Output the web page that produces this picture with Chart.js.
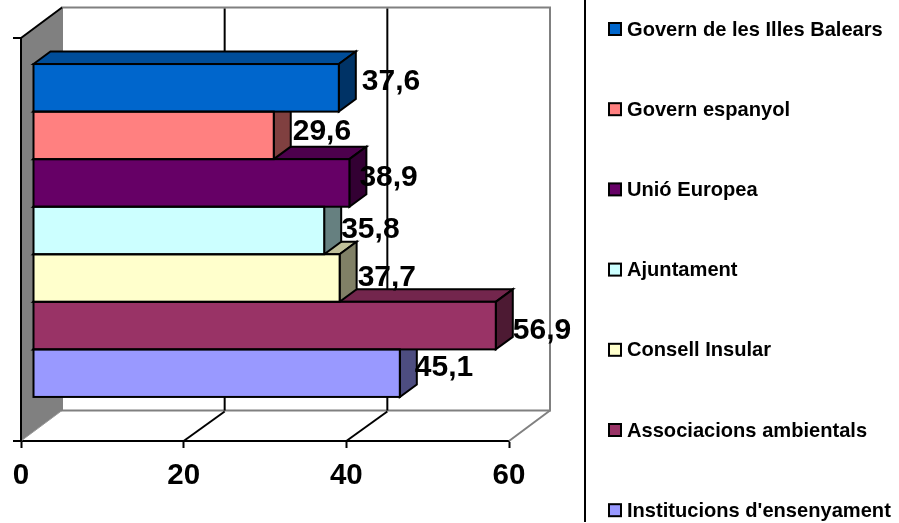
<!DOCTYPE html>
<html>
<head>
<meta charset="utf-8">
<style>
  html, body { margin: 0; padding: 0; background: #fff; }
  canvas { display: block; }
</style>
</head>
<body>
<canvas id="fundingChart" width="899" height="523"></canvas>
<script src="https://cdn.jsdelivr.net/npm/chart.js@4"></script>
<script>
const categories = [''];
const seriesNames = [
  'Govern de les Illes Balears',
  'Govern espanyol',
  'Unió Europea',
  'Ajuntament',
  'Consell Insular',
  'Associacions ambientals',
  "Institucions d'ensenyament"
];
const seriesValues = [37.6, 29.6, 38.9, 35.8, 37.7, 56.9, 45.1];
const seriesColors = ['#0066CC', '#FF8080', '#660066', '#CCFFFF', '#FFFFCC', '#993366', '#9999FF'];

const FONT = '"Liberation Sans", Arial, sans-serif';
const wall = { dx: 41, dy: -30.5 };   // depth of the box
const barDepth = { dx: 17, dy: -12.5 }; // depth of each bar
const barShift = { x: 12, y: -9 };    // bars sit inside the box, not on the front edge
const labelNudge = [[6, -6], [2, -4], [-7, -5], [0, -1], [1, 0], [0, 5], [-2, -5]];

function shade(hex, k) {
  const n = parseInt(hex.slice(1), 16);
  const c = [n >> 16, (n >> 8) & 255, n & 255].map(v => Math.round(v * k));
  return `rgb(${c[0]}, ${c[1]}, ${c[2]})`;
}

function poly(ctx, pts, fill, stroke, width) {
  ctx.beginPath();
  pts.forEach((p, i) => (i ? ctx.lineTo(p[0], p[1]) : ctx.moveTo(p[0], p[1])));
  ctx.closePath();
  if (fill) { ctx.fillStyle = fill; ctx.fill(); }
  if (stroke) { ctx.strokeStyle = stroke; ctx.lineWidth = width; ctx.stroke(); }
}

function line(ctx, x1, y1, x2, y2, color, width) {
  ctx.beginPath();
  ctx.moveTo(x1, y1);
  ctx.lineTo(x2, y2);
  ctx.strokeStyle = color;
  ctx.lineWidth = width;
  ctx.stroke();
}

function barRects(chart) {
  return seriesValues.map((v, i) => {
    const el = chart.getDatasetMeta(i).data[0];
    return { x0: el.base, x1: el.x, y0: el.y - el.height / 2, y1: el.y + el.height / 2 };
  });
}

const box3d = {
  id: 'box3d',
  beforeDatasetsDraw(chart) {
    const { ctx, chartArea: a, scales: { x } } = chart;
    const GREY = '#808080';
    ctx.save();
    // left wall
    poly(ctx, [[a.left, a.top], [a.left + wall.dx, a.top + wall.dy],
      [a.left + wall.dx, a.bottom + wall.dy], [a.left, a.bottom]], GREY);
    line(ctx, a.left + wall.dx, a.bottom + wall.dy, a.left, a.bottom, '#999', 1);
    // back wall
    poly(ctx, [[a.left + wall.dx, a.top + wall.dy], [a.right + wall.dx, a.top + wall.dy],
      [a.right + wall.dx, a.bottom + wall.dy], [a.left + wall.dx, a.bottom + wall.dy]], null, GREY, 2);
    line(ctx, a.right, a.bottom, a.right + wall.dx, a.bottom + wall.dy, GREY, 2);
    // gridlines on back wall and floor
    x.ticks.forEach(t => {
      if (t.value === 0 || t.value === x.max) return;
      const px = x.getPixelForValue(t.value);
      line(ctx, px + wall.dx, a.top + wall.dy + 1, px + wall.dx, a.bottom + wall.dy, '#000', 2);
      line(ctx, px, a.bottom, px + wall.dx, a.bottom + wall.dy + 1, '#000', 2);
    });
    // left edge and small ticks on the value side
    line(ctx, a.left, a.top, a.left + wall.dx, a.top + wall.dy, '#000', 2);
    line(ctx, a.left, a.top, a.left, a.bottom, '#000', 2);
    line(ctx, a.left - 8, a.top, a.left, a.top, '#000', 2);
    line(ctx, a.left - 8, a.bottom, a.left, a.bottom, '#000', 2);
    ctx.restore();

    // side and top faces, bottom bar first; the fronts get drawn over them
    ctx.save();
    ctx.translate(barShift.x, barShift.y);
    const rects = barRects(chart);
    for (let i = rects.length - 1; i >= 0; i--) {
      const r = rects[i];
      const d = barDepth;
      poly(ctx, [[r.x0, r.y0], [r.x0 + d.dx, r.y0 + d.dy], [r.x1 + d.dx, r.y0 + d.dy], [r.x1, r.y0]],
        shade(seriesColors[i], 0.75), '#000', 2);
      poly(ctx, [[r.x1, r.y0], [r.x1 + d.dx, r.y0 + d.dy], [r.x1 + d.dx, r.y1 + d.dy], [r.x1, r.y1]],
        shade(seriesColors[i], 0.5), '#000', 2);
    }
    ctx.restore();

    ctx.save();
    ctx.translate(barShift.x, barShift.y);
  },
  afterDatasetsDraw(chart) {
    const { ctx } = chart;
    const rects = barRects(chart);
    rects.forEach(r => {
      ctx.strokeStyle = '#000';
      ctx.lineWidth = 2;
      ctx.strokeRect(r.x0, r.y0, r.x1 - r.x0, r.y1 - r.y0);
    });
    ctx.restore();

    // value labels
    ctx.save();
    ctx.fillStyle = '#000';
    ctx.font = `bold 30px ${FONT}`;
    ctx.textAlign = 'left';
    ctx.textBaseline = 'middle';
    rects.forEach((r, i) => {
      const text = seriesValues[i].toFixed(1).replace('.', ',');
      const lx = r.x1 + barShift.x + barDepth.dx + labelNudge[i][0];
      const ly = (r.y0 + r.y1) / 2 + barShift.y + labelNudge[i][1];
      ctx.fillText(text, lx, ly);
    });
    ctx.restore();

    // legend, pitch is too wide for the built-in one to stay in a single column
    ctx.save();
    line(ctx, 585, 0, 585, 522, '#000', 2);
    ctx.font = `bold 20.1px ${FONT}`;
    ctx.textAlign = 'left';
    ctx.textBaseline = 'middle';
    seriesNames.forEach((name, i) => {
      const cy = 29 + i * 80.2;
      ctx.fillStyle = seriesColors[i];
      ctx.fillRect(609, cy - 6, 12, 12);
      ctx.strokeStyle = '#000';
      ctx.lineWidth = 2;
      ctx.strokeRect(609, cy - 6, 12, 12);
      ctx.fillStyle = '#000';
      ctx.fillText(name, 627, cy + 1);
    });
    ctx.restore();
  }
};

new Chart(document.getElementById('fundingChart'), {
  type: 'bar',
  data: {
    labels: categories,
    datasets: seriesNames.map((name, i) => ({
      label: name,
      data: [seriesValues[i]],
      backgroundColor: seriesColors[i],
      borderWidth: 0,
      barPercentage: 1,
      categoryPercentage: 0.826,
      clip: false
    }))
  },
  options: {
    indexAxis: 'y',
    responsive: false,
    animation: false,
    layout: { autoPadding: false, padding: { left: 21, right: 390, top: 38, bottom: 0 } },
    plugins: {
      legend: { display: false },
      tooltip: { enabled: false }
    },
    scales: {
      x: {
        min: 0,
        max: 60,
        ticks: { stepSize: 20, color: '#000', padding: 10, maxRotation: 0, font: { family: FONT, size: 29.5, weight: 'bold' } },
        grid: { drawOnChartArea: false, drawTicks: true, tickLength: 7, tickColor: '#000', tickWidth: 2 },
        border: { color: '#000', width: 2 },
        afterFit(axis) { axis.height = 82; }
      },
      y: { display: false }
    }
  },
  plugins: [box3d]
});
</script>
</body>
</html>
